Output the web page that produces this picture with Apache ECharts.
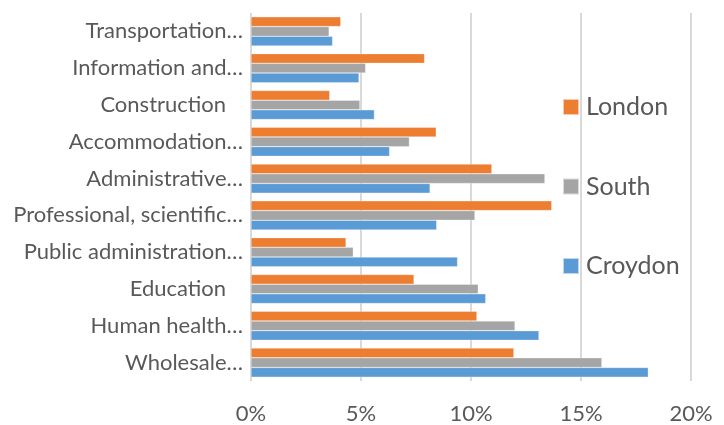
<!DOCTYPE html>
<html>
<head>
<meta charset="utf-8">
<script src="https://cdn.jsdelivr.net/npm/echarts@6/dist/echarts.min.js"></script>
<style>
html,body{margin:0;padding:0;background:#fff;}
#chart{width:724px;height:425px;}
</style>
</head>
<body>
<div id="chart"></div>
<script>
// categories listed bottom-to-top
const categories = [
  "Wholesale…",
  "Human health…",
  "Education\u00a0\u00a0\u00a0",
  "Public administration…",
  "Professional, scientific…",
  "Administrative…",
  "Accommodation…",
  "Construction\u00a0\u00a0\u00a0",
  "Information and…",
  "Transportation…"
];
const londonValues  = [0.1195, 0.1027, 0.0741, 0.0432, 0.1367, 0.1095, 0.0842, 0.0358, 0.0789, 0.0408];
const southValues   = [0.1595, 0.1200, 0.1033, 0.0465, 0.1018, 0.1336, 0.0720, 0.0495, 0.0521, 0.0355];
const croydonValues = [0.1806, 0.1309, 0.1067, 0.0939, 0.0844, 0.0814, 0.0630, 0.0561, 0.0491, 0.0371];
const xTicks = [0, 0.05, 0.10, 0.15, 0.20];

const FONT = "Lato";
const TXT = "#595959";

const chart = echarts.init(document.getElementById('chart'), null, {renderer: 'canvas'});
const barStyle = (c) => ({ color: c, borderColor: 'rgba(255,255,255,0.6)', borderWidth: 0.5 });
chart.setOption({
  animation: false,
  textStyle: { fontFamily: FONT },
  grid: { left: 251, right: 33, top: 13, bottom: 39, containLabel: false },
  legend: {
    orient: 'vertical',
    left: 557,
    top: 87,
    icon: 'rect',
    itemWidth: 16,
    itemHeight: 16,
    itemGap: 49.5,
    data: ['London', 'South', 'Croydon'],
    textStyle: { fontFamily: FONT, fontSize: 25, color: TXT, lineHeight: 30, padding: [0, 0, 0, 2] }
  },
  xAxis: {
    type: 'value',
    min: xTicks[0],
    max: xTicks[xTicks.length - 1],
    interval: 0.05,
    axisLine: { show: false },
    axisTick: { show: false },
    splitLine: { show: true, lineStyle: { color: '#D9D9D9', width: 2 } },
    axisLabel: {
      fontFamily: FONT, fontSize: 22, color: TXT, margin: 22,
      formatter: (v) => Math.round(v * 100) + '%'
    }
  },
  yAxis: {
    type: 'category',
    data: categories,
    axisLine: { show: false },
    axisTick: { show: false },
    axisLabel: { fontFamily: FONT, fontSize: 22, color: TXT, margin: 8 }
  },
  series: [
    { name: 'London', type: 'bar', data: londonValues, itemStyle: barStyle('#ED7D31'), barGap: '0%', barCategoryGap: '21%' },
    { name: 'South', type: 'bar', data: southValues, itemStyle: barStyle('#A5A5A5'), barGap: '0%', barCategoryGap: '21%' },
    { name: 'Croydon', type: 'bar', data: croydonValues, itemStyle: barStyle('#5B9BD5'), barGap: '0%', barCategoryGap: '21%' }
  ]
});
</script>
</body>
</html>
